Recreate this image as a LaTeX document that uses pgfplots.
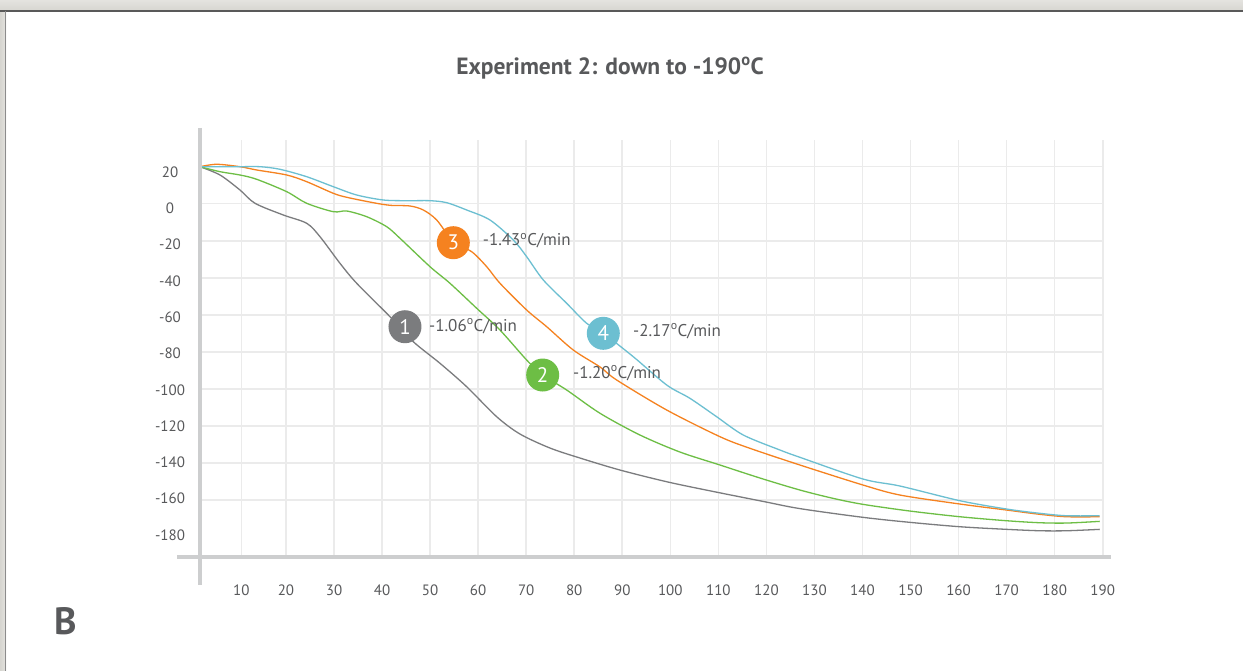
\documentclass[border=0pt]{standalone}
\usepackage{pgfplots}
\pgfplotsset{compat=1.18}
\usepackage{fontspec}
\setmainfont{PT Sans}
\definecolor{txt}{HTML}{58595B}
\definecolor{gridc}{HTML}{EBEBEB}
\definecolor{axisc}{HTML}{CDCECF}
\definecolor{cgray}{HTML}{7B7C7E}
\definecolor{cgreen}{HTML}{6DBE45}
\definecolor{corange}{HTML}{F58220}
\definecolor{cblue}{HTML}{6CBFD1}
\definecolor{bandtop}{HTML}{E4E3DF}
\definecolor{bandbot}{HTML}{D6D5D0}
\begin{document}
\begin{tikzpicture}[x=1pt,y=1pt]
\path[use as bounding box] (0,0) rectangle (1243,671);
\fill[white] (0,0) rectangle (1243,671);
\shade[top color=bandtop, bottom color=bandbot] (0,660) rectangle (1243,671);
\shade[left color=bandbot, right color=bandtop] (0,0) rectangle (6,660);
\draw[line width=1.5pt, color=black!65] (0,660.2) -- (1243,660.2);
\draw[line width=1.2pt, color=black!45] (5.8,0) -- (5.8,660.2);
\begin{axis}[
  at={(200pt,113.7pt)}, anchor=south west, scale only axis,
  width=902.7pt, height=417.3pt,
  xmin=2.1, xmax=190, ymin=-191.1, ymax=34.43,
  axis line style={draw=none},
  major tick length=0pt, minor tick length=0pt,
  xtick={10.7,20,30,40,50,60,70,80,90,100,110,120,130,140,150,160,170,180,190},
  xticklabels={10,20,30,40,50,60,70,80,90,100,110,120,130,140,150,160,170,180,190},
  xmajorgrids=true,
  ytick={17.14,-2.48,-22.10,-41.72,-61.35,-80.97,-100.59,-120.21,-139.83,-159.45,-179.08},
  yticklabels={20,0,-20,-40,-60,-80,-100,-120,-140,-160,-180},
  ymajorgrids=false,
  extra y ticks={20,0,-20,-40,-60,-80,-100,-120,-140,-160},
  extra y tick labels={},
  extra y tick style={ymajorgrids=true, major tick length=0pt},
  major grid style={draw=gridc, line width=1.6pt},
  /pgf/number format/assume math mode=true,
  xticklabel style={anchor=center, yshift=-32.7pt, font=\fontsize{15}{15}\selectfont, text=txt},
  yticklabel style={anchor=center, xshift=-30pt, font=\fontsize{15}{15}\selectfont, text=txt},
  clip=false,
  every axis plot/.append style={line width=1.3pt, smooth, tension=0.5},
]
\addplot[cgray] coordinates {(2.10,20) (6.26,15.51) (10.42,7.41) (13.55,0.22) (19.44,-6.11) (24.31,-10.59) (27.08,-17.84) (31.24,-32.22) (34.72,-43.03) (41.65,-61.08) (46.50,-74.59) (52.06,-86.27) (57.61,-98.92) (63.86,-115.14) (68.71,-124.49) (74.95,-132.05) (81.20,-137.46) (89.53,-143.95) (99.52,-150.43) (109.51,-155.84) (119.50,-161.0) (126.99,-164.8) (140.11,-169.51) (149.89,-172.22) (160.30,-174.59) (170.02,-176.0) (176.95,-176.76) (182.51,-176.76) (189.38,-176.0)};
\addplot[cgreen] coordinates {(2.10,20) (6.26,17.30) (10.42,15.51) (13.90,13.19) (20.15,6.49) (24.31,0.22) (29.85,-4.32) (32.64,-3.95) (36.80,-7.03) (40.96,-12.43) (43.73,-18.70) (49.98,-34.05) (54.14,-43.03) (59.70,-56.54) (64.54,-68.27) (70.10,-84.49) (73.43,-92.59) (78.43,-100.70) (85.38,-113.30) (93.69,-125.03) (102.01,-134.22) (110.35,-141.24) (118.67,-148.27) (126.99,-154.76) (133.87,-159.24) (140.11,-162.49) (149.89,-166.11) (160.30,-169.19) (170.02,-171.35) (176.95,-172.43) (182.51,-172.59) (189.38,-171.68)};
\addplot[corange] coordinates {(2.10,20) (5.57,21.30) (10.42,20) (13.90,18.22) (20.15,15.51) (24.31,11.89) (29.85,5.62) (32.64,3.46) (38.17,0.54) (41.65,-0.86) (45.81,-1.24) (48.58,-3.41) (51.37,-8.81) (54.83,-20.54) (58.66,-25.95) (61.78,-34.05) (64.55,-43.03) (70.10,-57.46) (74.27,-66.49) (79.80,-79.08) (85.38,-88.27) (88.84,-95.30) (99.25,-111.51) (110.35,-125.95) (116.59,-132.22) (126.99,-141.24) (140.11,-152.05) (147.81,-157.46) (160.30,-162.32) (170.02,-165.57) (176.95,-167.89) (182.51,-169.19) (189.38,-169.19)};
\addplot[cblue] coordinates {(2.10,20) (10.42,20) (14.59,20) (18.75,18.59) (24.31,14.59) (29.85,9.19) (34.72,4.70) (40.25,2.0) (45.12,1.62) (49.98,1.62) (53.45,0.54) (57.61,-3.41) (62.46,-8.81) (67.31,-19.62) (70.10,-28.65) (73.56,-41.24) (78.43,-53.84) (82.59,-64.65) (86.05,-70.05) (92.29,-82.70) (99.25,-98.0) (104.09,-105.19) (109.65,-115.14) (115.19,-125.03) (122.83,-133.14) (126.99,-137.08) (140.11,-148.81) (147.81,-152.59) (160.30,-160.54) (170.02,-165.03) (176.95,-167.35) (182.51,-168.65) (189.38,-168.65)};
\tikzset{num/.style={circle, minimum size=33pt, inner sep=0pt, text=white, font=\fontsize{21}{21}\selectfont},
  lab/.style={anchor=west, inner sep=0pt, text=txt, font=\fontsize{17}{17}\selectfont}}
\node[num, fill=cgray] at (axis cs:44.77,-66.49) {1};
\node[num, fill=cgreen] at (axis cs:73.43,-92.59) {2};
\node[num, fill=corange] at (axis cs:54.83,-21.08) {3};
\node[num, fill=cblue] at (axis cs:86.05,-70.05) {4};
\node[lab] at (axis cs:49.77,-66.11) {-1.06\textsuperscript{o}C/min};
\node[lab] at (axis cs:79.74,-91.51) {-1.20\textsuperscript{o}C/min};
\node[lab] at (axis cs:60.95,-20.0) {-1.43\textsuperscript{o}C/min};
\node[lab] at (axis cs:92.23,-68.81) {-2.17\textsuperscript{o}C/min};
\end{axis}
\draw[axisc, line width=4pt] (200,543) -- (200,86);
\draw[axisc, line width=4pt] (177,113.7) -- (1111,113.7);
\node[text=txt, font=\bfseries\fontsize{23.5}{23.5}\selectfont] at (610,603) {Experiment 2: down to -190\textsuperscript{o}C};
\node[text=txt, font=\bfseries\fontsize{38}{38}\selectfont] at (66,50) {B};
\end{tikzpicture}
\end{document}
